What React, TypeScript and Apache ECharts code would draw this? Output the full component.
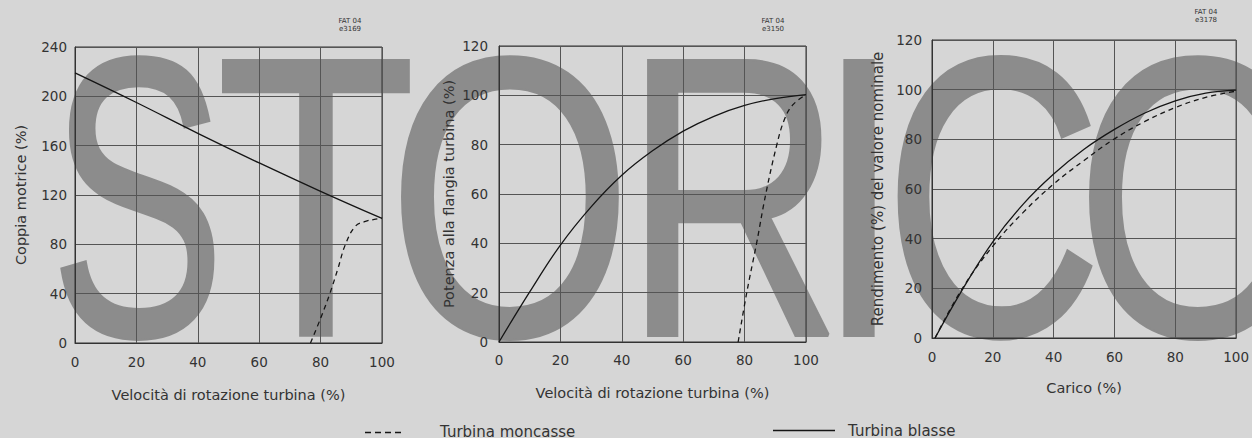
import React, { useEffect, useRef } from "react";
import * as echarts from "echarts";

// ---- data ----
const xTicks = [0, 20, 40, 60, 80, 100];
const torqueBlasse = [[0, 219], [20, 195], [40, 170], [60, 146], [80, 123], [100, 101]];
const torqueMoncasse = [[76.7, 0], [80, 20], [83, 40], [85.6, 60], [88.1, 80], [91.3, 94.6], [94.6, 98.6], [97.5, 100.2], [100, 101]];
const powerBlasse = [[0, 0], [10, 20.3], [20, 39.3], [30, 54.8], [40, 67.6], [50, 77.5], [60, 85.5], [70, 91.5], [80, 95.9], [90, 98.7], [100, 100.3]];
const powerMoncasse = [[77.9, 0], [80.7, 20], [83.9, 40], [86.9, 60], [90.5, 80], [92.9, 90], [95.6, 96], [100, 100.3]];
const effBlasse = [[1, 0], [10, 19.5], [20, 38.7], [30, 53.9], [40, 66], [50, 76], [60, 84], [70, 90.6], [80, 95.5], [90, 98.6], [100, 99.8]];
const effMoncasse = [[1, 0], [10, 20], [20, 37], [30, 50.6], [40, 62], [50, 71.5], [60, 80.2], [70, 87.2], [80, 92.8], [90, 96.9], [100, 99.4]];

const xNames = ["Velocità di rotazione turbina (%)", "Velocità di rotazione turbina (%)", "Carico (%)"];
const yNames = ["Coppia motrice (%)", "Potenza alla flangia turbina (%)", "Rendimento (%) del valore nominale"];
const legendNames = ["Turbina moncasse", "Turbina blasse"];
const codes = [["FAT 04", "e3169"], ["FAT 04", "e3150"], ["FAT 04", "e3178"]];
const watermark = [
  { ch: "S", cx: 137.5, sx: 0.66 },
  { ch: "T", cx: 316, sx: 0.82 },
  { ch: "O", cx: 510, sx: 0.79 },
  { ch: "R", cx: 733, sx: 0.76 },
  { ch: "I", cx: 859, sx: 0.76 },
  { ch: "C", cx: 993, sx: 0.76 },
  { ch: "O", cx: 1198, sx: 0.79 },
];

const BG = "#d6d6d6";
const INK = "#151515";
const TXT = "#333333";
const GRIDC = "#555555";
const FONT = "DejaVu Sans";
const WM = "#8c8c8c";

export default function App() {
  const ref = useRef<HTMLDivElement>(null);
  useEffect(() => {
    if (!ref.current) return;
    const chart = echarts.init(ref.current, undefined, { renderer: "svg" });

    const grids = [
      { left: 75, top: 47, width: 307, height: 296 },
      { left: 499, top: 46, width: 307, height: 296 },
      { left: 932, top: 40, width: 308, height: 298 },
    ];
    const yMax = [240, 120, 120];
    const yInt = [40, 20, 20];
    const yLabelMargin = [8, 11, 10];
    const xLabelMargin = [12, 11, 12];
    const xNameGap = [44, 43, 42];
    const yNameGap = [47, 43, 47];

    const axisLabel = (m: number) => ({ color: TXT, fontFamily: FONT, fontSize: 13.5, margin: m });

    const xAxis = grids.map((_, i) => ({
      type: "value",
      gridIndex: i,
      min: 0,
      max: 100,
      interval: 20,
      name: xNames[i],
      nameLocation: "middle",
      nameGap: xNameGap[i],
      nameTextStyle: { color: TXT, fontFamily: FONT, fontSize: 14.5 },
      axisLine: { show: true, lineStyle: { color: "#333", width: 1 } },
      axisTick: { show: false },
      axisLabel: { ...axisLabel(xLabelMargin[i]), formatter: (v: number) => (xTicks.includes(v) ? String(v) : "") },
      splitLine: { show: true, lineStyle: { color: GRIDC, width: 1 } },
    }));
    const yAxis = grids.map((_, i) => ({
      type: "value",
      gridIndex: i,
      min: 0,
      max: yMax[i],
      interval: yInt[i],
      name: yNames[i],
      nameLocation: "middle",
      nameGap: yNameGap[i],
      nameTextStyle: { color: TXT, fontFamily: FONT, fontSize: i === 2 ? 15 : 14.5 },
      axisLine: { show: true, lineStyle: { color: "#333", width: 1 } },
      axisTick: { show: false },
      axisLabel: axisLabel(yLabelMargin[i]),
      splitLine: { show: true, lineStyle: { color: GRIDC, width: 1 } },
    }));

    const solid = { color: INK, width: 1.3, type: "solid" };
    const dashed = { color: INK, width: 1.3, type: [5, 4] };
    const mk = (name: string, data: number[][], i: number, ls: any) => ({
      name,
      type: "line",
      xAxisIndex: i,
      yAxisIndex: i,
      data,
      smooth: 0.4,
      showSymbol: false,
      symbol: "none",
      lineStyle: ls,
      z: 5,
    });
    const series = [
      mk(legendNames[1], torqueBlasse, 0, solid),
      mk(legendNames[0], torqueMoncasse, 0, dashed),
      mk(legendNames[1], powerBlasse, 1, solid),
      mk(legendNames[0], powerMoncasse, 1, dashed),
      mk(legendNames[1], effBlasse, 2, solid),
      mk(legendNames[0], effMoncasse, 2, dashed),
    ];

    const codePos = [[350, 17], [773, 17], [1206, 8]];
    const graphic: any[] = [];
    watermark.forEach((w) => {
      graphic.push({
        type: "text",
        x: w.cx,
        y: 197,
        scaleX: w.sx,
        z: -10,
        silent: true,
        style: {
          text: w.ch,
          fill: WM,
          stroke: WM,
          lineWidth: 4,
          fontFamily: "Liberation Sans",
          fontSize: 398,
          textAlign: "center",
          textVerticalAlign: "middle",
          align: "center",
          verticalAlign: "middle",
        },
      });
    });
    codes.forEach((c, i) => {
      c.forEach((t, j) => {
        graphic.push({
          type: "text",
          x: codePos[i][0],
          y: codePos[i][1] + j * 8.5,
          style: {
            text: t,
            fill: "#333",
            fontFamily: FONT,
            fontSize: 7,
            textAlign: "center",
            align: "center",
            textVerticalAlign: "top",
            verticalAlign: "top",
          },
        });
      });
    });
    graphic.push(
      { type: "line", shape: { x1: 365, y1: 432.5, x2: 402, y2: 432.5 }, style: { stroke: INK, lineWidth: 1.5, lineDash: [6, 4] } },
      { type: "text", x: 440, y: 432, style: { text: legendNames[0], fill: TXT, fontFamily: FONT, fontSize: 15, textVerticalAlign: "middle", verticalAlign: "middle" } },
      { type: "line", shape: { x1: 773, y1: 430.5, x2: 835, y2: 430.5 }, style: { stroke: INK, lineWidth: 1.3 } },
      { type: "text", x: 848, y: 431, style: { text: legendNames[1], fill: TXT, fontFamily: FONT, fontSize: 15, textVerticalAlign: "middle", verticalAlign: "middle" } }
    );

    chart.setOption({
      animation: false,
      backgroundColor: BG,
      grid: grids.map((g) => ({ ...g, show: true, borderColor: "#333", borderWidth: 1, backgroundColor: "transparent", containLabel: false })),
      xAxis,
      yAxis,
      series,
      graphic,
    });
    return () => chart.dispose();
  }, []);
  return <div ref={ref} style={{ position: "fixed", left: 0, top: 0, width: 1252, height: 438, background: BG }} />;
}
